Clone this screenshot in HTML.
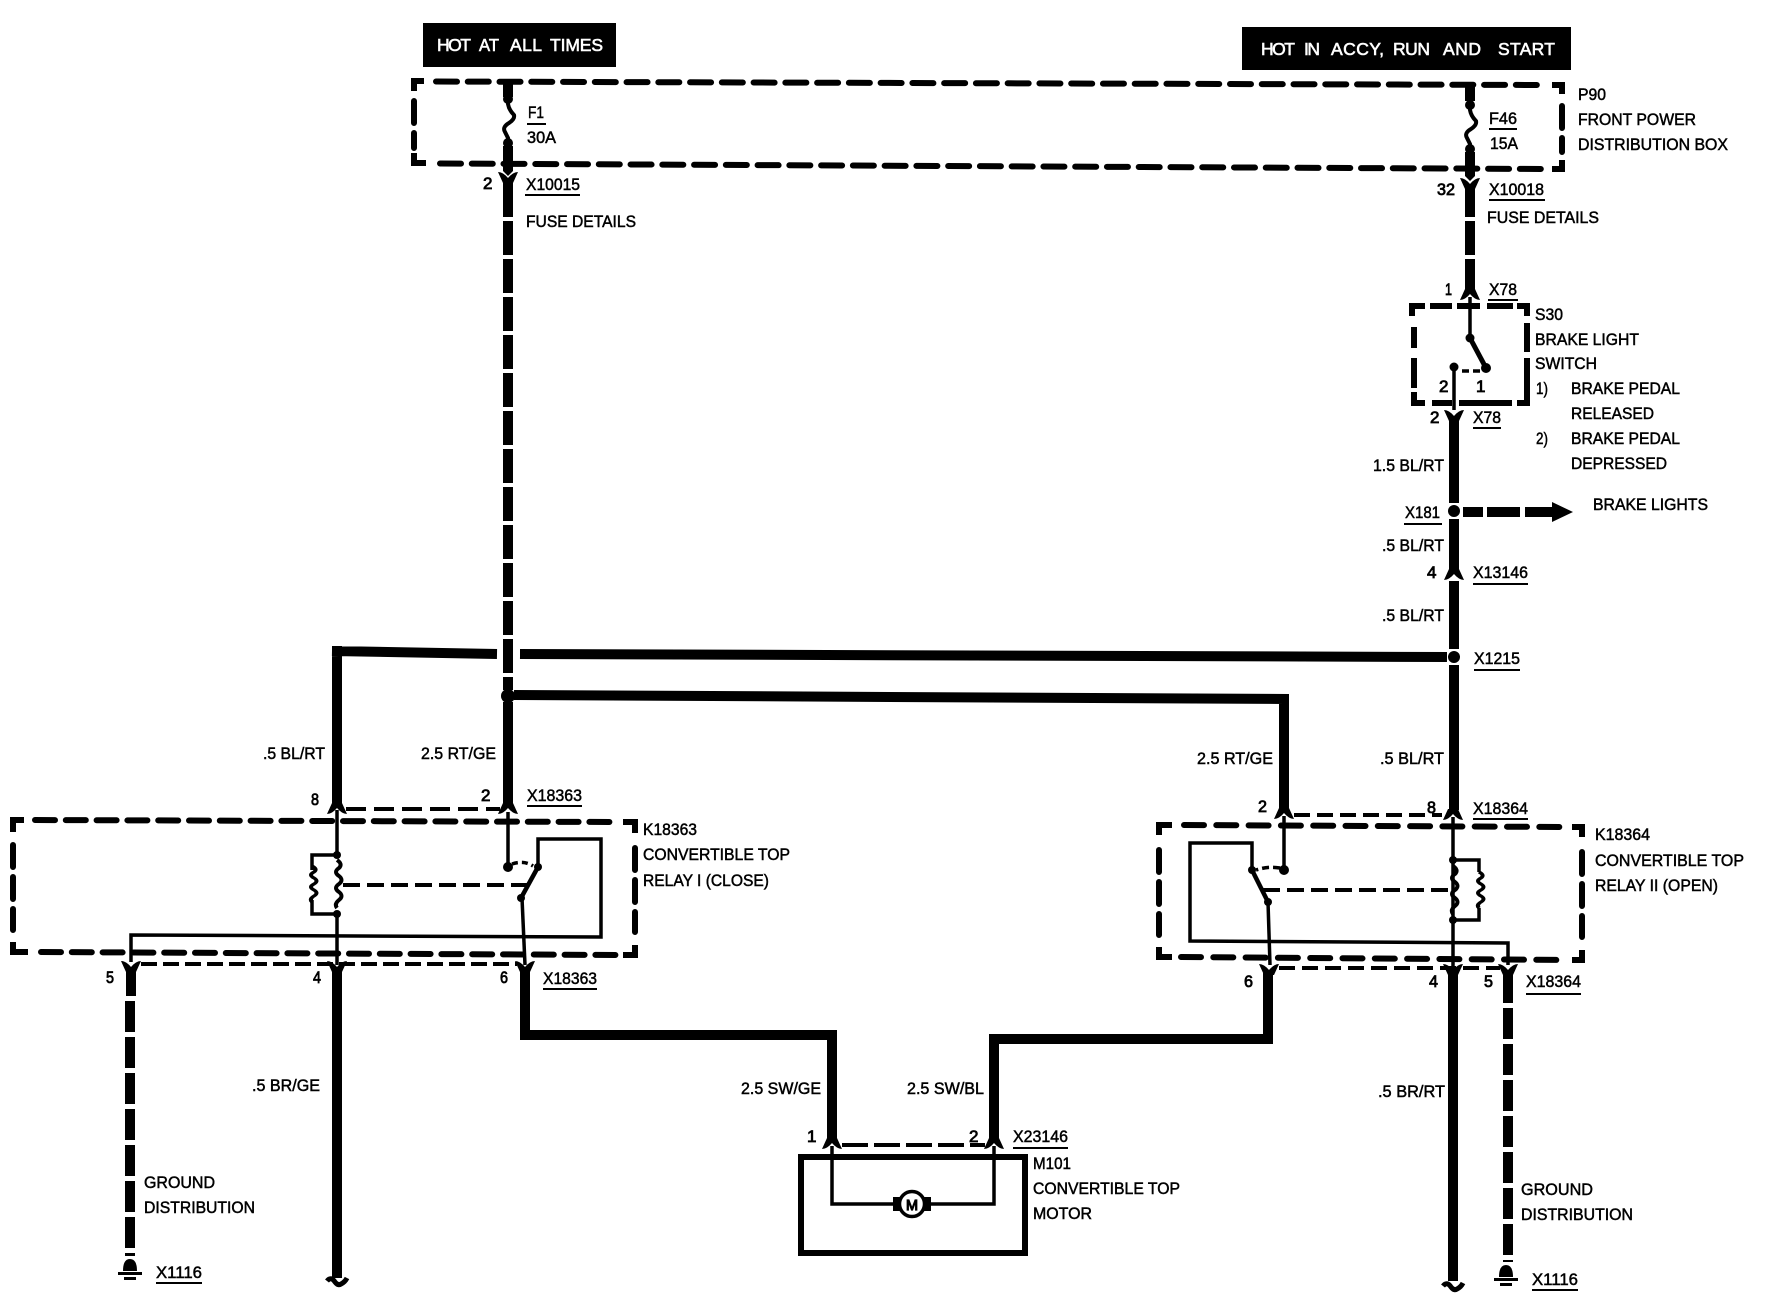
<!DOCTYPE html>
<html>
<head>
<meta charset="utf-8">
<style>
html,body{margin:0;padding:0;background:#fff}
svg{display:block}
text{font-family:"Liberation Sans",sans-serif;font-size:17px;fill:#000;stroke:#000;stroke-width:.5}
text.n{stroke-width:.8}
text.w{fill:#fff;stroke:#fff;stroke-width:.6;font-size:17.5px}
.wire{fill:none;stroke:#000;stroke-width:10}
.thin{fill:none;stroke:#000;stroke-width:3.5}
.ul{stroke:#000;stroke-width:2;fill:none}
.box{fill:none;stroke:#000;stroke-width:6;stroke-linecap:round;stroke-dasharray:21 10.76}
.r1{fill:none;stroke:#000;stroke-width:6;stroke-linecap:round;stroke-dasharray:20 10.8}
.r2{fill:none;stroke:#000;stroke-width:6;stroke-linecap:round;stroke-dasharray:20 12.3}
.side{fill:none;stroke:#000;stroke-width:6;stroke-linecap:round;stroke-dasharray:22 10}
.cdash{fill:none;stroke:#000;stroke-width:4;stroke-dasharray:20 8}
.wdash{fill:none;stroke:#000;stroke-width:10;stroke-dasharray:34 4}
</style>
</head>
<body>
<svg width="1772" height="1312" viewBox="0 0 1772 1312" xmlns="http://www.w3.org/2000/svg">
<defs>
<path id="fy" d="M-10 -5 Q-5 -5 0 1 Q5 -5 10 -5 L5 6 L-5 6 Z" fill="#000"/>
<path id="fc" d="M-10 5 Q-5 5 0 -1 Q5 5 10 5 L5 -6 L-5 -6 Z" fill="#000"/>
<path id="coil" d="M0 0 Q6 4 2 8 Q-4 12 2 16 Q7 20 2 24 Q-4 28 2 32 Q7 36 2 40 Q-3 44 0 48" fill="none" stroke="#000" stroke-width="4"/>
<path id="fuse" d="M0 0 L0 6 Q1 12 6 17 Q7 21 1 25 Q-6 29 -3 34 L0 40 L0 46" fill="none" stroke="#000" stroke-width="4"/>
<g id="gnd"><path d="M-7 0 Q-7 -12 0 -12 Q7 -12 7 0 Z" fill="#000"/><rect x="-12" y="1" width="24" height="3" fill="#000"/><rect x="-6" y="6" width="12" height="3" fill="#000"/></g>
<path id="tilde" d="M-10 0 Q-6 -5 -2 1 Q1 5 4 3 Q8 1 10 -3" fill="none" stroke="#000" stroke-width="5"/>
</defs>

<!-- header boxes -->
<rect x="423" y="23" width="193" height="44" fill="#000"/>
<text class="w" x="437" y="51" textLength="34" lengthAdjust="spacing">HOT</text>
<text class="w" x="479" y="51" textLength="20" lengthAdjust="spacingAndGlyphs">AT</text>
<text class="w" x="510" y="51" textLength="32" lengthAdjust="spacing">ALL</text>
<text class="w" x="550" y="51" textLength="53" lengthAdjust="spacing">TIMES</text>
<rect x="1242" y="27" width="329" height="43" fill="#000"/>
<text class="w" x="1261" y="55" textLength="34" lengthAdjust="spacing">HOT</text>
<text class="w" x="1304" y="55" textLength="16" lengthAdjust="spacing">IN</text>
<text class="w" x="1331" y="55" textLength="53" lengthAdjust="spacing">ACCY,</text>
<text class="w" x="1393" y="55" textLength="37" lengthAdjust="spacing">RUN</text>
<text class="w" x="1443" y="55" textLength="38" lengthAdjust="spacing">AND</text>
<text class="w" x="1498" y="55" textLength="57" lengthAdjust="spacing">START</text>

<!-- fuse box -->
<path class="box" d="M436 81.5 L1542 85"/>
<path class="box" d="M440 163.5 L1546 169"/>
<path d="M414 91 V81 H424 M1552 85 H1562 V94 M414 153 V163 H426 M1562 160 V169 H1552" fill="none" stroke="#000" stroke-width="6"/>
<path class="side" d="M414 101 V148"/>
<path class="side" d="M1562 106 V152"/>

<!-- fuses -->
<path class="wire" d="M508 79 V97 M508 146 V171"/>
<use href="#fuse" x="508" y="98"/>
<circle cx="508" cy="99" r="5"/><circle cx="508" cy="143" r="5"/>
<path d="M503 171 H513 L508 176 Z" fill="#000"/>
<path class="wire" d="M1470 83 V101 M1470 152 V176"/>
<use href="#fuse" x="1470" y="104"/>
<circle cx="1470" cy="105" r="5"/><circle cx="1470" cy="149" r="5"/>
<path d="M1465 176 H1475 L1470 181 Z" fill="#000"/>
<use href="#fy" x="508" y="177"/>
<use href="#fy" x="1470" y="183"/>

<!-- main left wire -->
<path class="wire" d="M508 180 V217"/>
<path class="wdash" d="M508 221 V690"/>
<circle cx="508" cy="696" r="7"/>
<path class="wire" d="M508 702 V808"/>
<!-- main right top wire -->
<path class="wire" d="M1470 186 V217 M1470 221 V255 M1470 259 V291"/>
<use href="#fc" x="1470" y="295"/>

<!-- switch -->
<path d="M1412 316 V306 H1425 M1430 306 H1452 M1457 306 H1480 M1487 306 H1513 M1517 306 H1527 V316
         M1414 327 V348 M1414 358 V388 M1414 392 V403 H1425 M1432 403 H1452 M1459 403 H1512 M1527 393 V403 H1517
         M1527 323 V352 M1527 358 V393" fill="none" stroke="#000" stroke-width="6"/>
<path class="thin" d="M1470 297 V338"/>
<circle cx="1470" cy="338" r="4.5"/>
<path d="M1470 338 L1486 368" stroke="#000" stroke-width="5" fill="none"/>
<circle cx="1486" cy="368" r="5"/>
<circle cx="1454" cy="367" r="4.5"/>
<path class="thin" d="M1454 367 V410"/>
<path d="M1462 371 H1482" stroke="#000" stroke-width="3.5" stroke-dasharray="7 4" fill="none"/>
<use href="#fy" x="1454" y="415"/>

<!-- right vertical -->
<path class="wire" d="M1454 418 V503 M1454 519 V570"/>
<circle cx="1454" cy="511" r="6"/>
<use href="#fc" x="1454" y="575"/>
<path class="wire" d="M1454 581 V649"/>
<circle cx="1454" cy="657" r="6"/>
<path class="wire" d="M1454 665 V810"/>

<!-- X181 arrow -->
<path d="M1463 512 H1483 M1487 512 H1520 M1525 512 H1554" stroke="#000" stroke-width="10" fill="none"/>
<path d="M1552 502 L1573 512 L1552 522 Z" fill="#000"/>

<!-- horizontals -->
<path class="wire" d="M337 808 V651 H332 M332 651 L497 654"/>
<path class="wire" d="M520 654 L1447 657"/>
<path class="wire" d="M514 695 L1284 699 V810"/>

<!-- relay I -->
<path class="r1" d="M35 820 L612 822"/>
<path class="r1" d="M41 952 L618 955"/>
<path d="M13 832 V820 H24 M623 822 H635 V833 M13 942 V952 H28 M635 945 V955 H623" fill="none" stroke="#000" stroke-width="6"/>
<path class="side" d="M13 845 V930"/>
<path class="side" d="M635 848 V932"/>
<use href="#fc" x="337" y="809"/>
<use href="#fc" x="508" y="809"/>
<path class="cdash" d="M346 809 H500"/>
<path class="thin" d="M337 810 V855 M337 914 V965"/>
<path class="thin" d="M337 855 H312 V870 M312 900 V914 H337"/>
<circle cx="337" cy="855" r="4"/><circle cx="337" cy="914" r="4"/>
<use href="#coil" x="337" y="860"/>
<g transform="translate(312 866) scale(1 .75)"><use href="#coil"/></g>
<path class="cdash" d="M343 885 H530" style="stroke-dasharray:17 7"/>
<path class="thin" d="M508 812 V867"/>
<circle cx="508" cy="867" r="5"/>
<path d="M512 864 Q524 860 533 866" fill="none" stroke="#000" stroke-width="3.5" stroke-dasharray="6 4"/>
<circle cx="538" cy="867" r="4"/>
<path d="M538 867 L521 898" stroke="#000" stroke-width="4.5" fill="none"/>
<circle cx="521" cy="898" r="4"/>
<path class="thin" d="M522 898 L525 965"/>
<path class="thin" d="M538 867 V839 H601 V937 L131 935 V962"/>
<use href="#fy" x="131" y="966"/>
<use href="#fy" x="337" y="966"/>
<use href="#fy" x="525" y="966"/>
<path class="cdash" d="M141 964 H517" style="stroke-dasharray:16 6"/>

<!-- relay II -->
<path class="r2" d="M1184 825 L1565 827"/>
<path class="r2" d="M1181 957 L1565 960"/>
<path d="M1159 835 V825 H1172 M1572 827 H1582 V837 M1159 947 V957 H1172 M1582 950 V960 H1572" fill="none" stroke="#000" stroke-width="6"/>
<path class="side" d="M1159 850 V935"/>
<path class="side" d="M1582 852 V937"/>
<use href="#fc" x="1284" y="814"/>
<use href="#fc" x="1453" y="815"/>
<path class="cdash" d="M1294 815 H1442" style="stroke-dasharray:16 7"/>
<path class="thin" d="M1284 816 V870"/>
<circle cx="1284" cy="870" r="5"/>
<path d="M1280 868 Q1268 866 1256 870" fill="none" stroke="#000" stroke-width="3.5" stroke-dasharray="7 4"/>
<circle cx="1252" cy="870" r="4"/>
<path d="M1252 870 L1268 902" stroke="#000" stroke-width="4.5" fill="none"/>
<circle cx="1268" cy="902" r="4"/>
<path class="thin" d="M1268 902 L1270 965"/>
<path class="thin" d="M1252 870 V843 H1190 V941 L1508 943 V965"/>
<path class="thin" d="M1453 817 V968"/>
<path class="thin" d="M1453 860 H1479 V872 M1479 908 V920 H1453"/>
<circle cx="1453" cy="860" r="4"/><circle cx="1453" cy="920" r="4"/>
<use href="#coil" x="1453" y="866"/>
<g transform="translate(1479 872) scale(1 .75)"><use href="#coil"/></g>
<path class="cdash" d="M1263 890 H1448" style="stroke-dasharray:17 7"/>
<use href="#fy" x="1269" y="969"/>
<use href="#fy" x="1453" y="969"/>
<use href="#fy" x="1508" y="969"/>
<path class="cdash" d="M1279 968 H1500" style="stroke-dasharray:16 7"/>

<!-- lower wires -->
<path class="wire" d="M131 971 V996"/>
<path class="wdash" d="M130 1001 V1256" style="stroke-dasharray:31 5"/>
<use href="#gnd" x="130" y="1271"/>
<path class="wire" d="M337 971 V1278"/>
<use href="#tilde" x="337" y="1281"/>
<path class="wire" d="M525 971 V1035 H832 V1140"/>
<path class="wire" d="M994 1140 V1039 H1268 V973"/>
<path class="wire" d="M1453 973 V1281"/>
<use href="#tilde" x="1453" y="1286"/>
<path class="wire" d="M1508 973 V1003"/>
<path class="wdash" d="M1508 1008 V1262" style="stroke-dasharray:31 5"/>
<use href="#gnd" x="1506" y="1277"/>

<!-- motor -->
<rect x="801" y="1157" width="224" height="96" fill="none" stroke="#000" stroke-width="6"/>
<use href="#fc" x="832" y="1144"/>
<use href="#fc" x="994" y="1144"/>
<path class="cdash" d="M842 1145 H985" style="stroke-dasharray:26 6"/>
<path class="thin" d="M832 1146 V1204 H895 M931 1204 H994 V1146"/>
<rect x="893" y="1197" width="38" height="14" fill="#000"/>
<circle cx="912" cy="1204" r="12.5" fill="#fff" stroke="#000" stroke-width="3.5"/>
<text x="906" y="1210" style="font-size:15px;stroke-width:1.2" textLength="12" lengthAdjust="spacingAndGlyphs">M</text>

<!-- labels -->
<g>
<text x="528" y="118" textLength="16" lengthAdjust="spacingAndGlyphs">F1</text><path class="ul" d="M527 124 H546"/>
<text x="527" y="143" textLength="29" lengthAdjust="spacingAndGlyphs">30A</text>
<text class="n" x="483" y="189">2</text>
<text x="526" y="190" textLength="54" lengthAdjust="spacingAndGlyphs">X10015</text><path class="ul" d="M525 195 H580"/>
<text x="526" y="227" textLength="110" lengthAdjust="spacingAndGlyphs">FUSE DETAILS</text>

<text x="1489" y="124" textLength="28" lengthAdjust="spacingAndGlyphs">F46</text><path class="ul" d="M1489 129 H1517"/>
<text x="1490" y="149" textLength="28" lengthAdjust="spacingAndGlyphs">15A</text>
<text x="1578" y="100" textLength="28" lengthAdjust="spacingAndGlyphs">P90</text>
<text x="1578" y="125" textLength="118" lengthAdjust="spacingAndGlyphs">FRONT POWER</text>
<text x="1578" y="150" textLength="150" lengthAdjust="spacingAndGlyphs">DISTRIBUTION BOX</text>
<text class="n" x="1437" y="195" textLength="18" lengthAdjust="spacingAndGlyphs">32</text>
<text x="1489" y="195" textLength="55" lengthAdjust="spacingAndGlyphs">X10018</text><path class="ul" d="M1489 200 H1545"/>
<text x="1487" y="223" textLength="112" lengthAdjust="spacingAndGlyphs">FUSE DETAILS</text>
<text class="n" x="1445" y="295" textLength="7" lengthAdjust="spacingAndGlyphs">1</text>
<text x="1489" y="295" textLength="28" lengthAdjust="spacingAndGlyphs">X78</text><path class="ul" d="M1488 300 H1518"/>

<text x="1535" y="320" textLength="28" lengthAdjust="spacingAndGlyphs">S30</text>
<text x="1535" y="345" textLength="104" lengthAdjust="spacingAndGlyphs">BRAKE LIGHT</text>
<text x="1535" y="369" textLength="62" lengthAdjust="spacingAndGlyphs">SWITCH</text>
<text x="1536" y="394" textLength="12" lengthAdjust="spacingAndGlyphs">1)</text>
<text x="1571" y="394" textLength="109" lengthAdjust="spacingAndGlyphs">BRAKE PEDAL</text>
<text x="1571" y="419" textLength="83" lengthAdjust="spacingAndGlyphs">RELEASED</text>
<text x="1536" y="444" textLength="12" lengthAdjust="spacingAndGlyphs">2)</text>
<text x="1571" y="444" textLength="109" lengthAdjust="spacingAndGlyphs">BRAKE PEDAL</text>
<text x="1571" y="469" textLength="96" lengthAdjust="spacingAndGlyphs">DEPRESSED</text>
<text class="n" x="1439" y="392">2</text>
<text class="n" x="1476" y="392">1</text>
<text class="n" x="1430" y="423">2</text>
<text x="1473" y="423" textLength="28" lengthAdjust="spacingAndGlyphs">X78</text><path class="ul" d="M1473 428 H1501"/>
<text x="1373" y="471" textLength="71" lengthAdjust="spacingAndGlyphs">1.5 BL/RT</text>
<text x="1405" y="518" textLength="35" lengthAdjust="spacingAndGlyphs">X181</text><path class="ul" d="M1404 524 H1442"/>
<text x="1593" y="510" textLength="115" lengthAdjust="spacingAndGlyphs">BRAKE LIGHTS</text>
<text x="1382" y="551" textLength="62" lengthAdjust="spacingAndGlyphs">.5 BL/RT</text>
<text class="n" x="1427" y="578">4</text>
<text x="1473" y="578" textLength="55" lengthAdjust="spacingAndGlyphs">X13146</text><path class="ul" d="M1473 584 H1528"/>
<text x="1382" y="621" textLength="62" lengthAdjust="spacingAndGlyphs">.5 BL/RT</text>
<text x="1474" y="664" textLength="46" lengthAdjust="spacingAndGlyphs">X1215</text><path class="ul" d="M1474 670 H1520"/>

<text x="263" y="759" textLength="62" lengthAdjust="spacingAndGlyphs">.5 BL/RT</text>
<text x="421" y="759" textLength="75" lengthAdjust="spacingAndGlyphs">2.5 RT/GE</text>
<text class="n" x="311" y="805" textLength="8" lengthAdjust="spacingAndGlyphs">8</text>
<text class="n" x="481" y="801">2</text>
<text x="527" y="801" textLength="55" lengthAdjust="spacingAndGlyphs">X18363</text><path class="ul" d="M527 806 H582"/>
<text x="643" y="835" textLength="54" lengthAdjust="spacingAndGlyphs">K18363</text>
<text x="643" y="860" textLength="147" lengthAdjust="spacingAndGlyphs">CONVERTIBLE TOP</text>
<text x="643" y="886" textLength="126" lengthAdjust="spacingAndGlyphs">RELAY I (CLOSE)</text>
<text class="n" x="106" y="983" textLength="8" lengthAdjust="spacingAndGlyphs">5</text>
<text class="n" x="313" y="983" textLength="8" lengthAdjust="spacingAndGlyphs">4</text>
<text class="n" x="500" y="983" textLength="8" lengthAdjust="spacingAndGlyphs">6</text>
<text x="543" y="984" textLength="54" lengthAdjust="spacingAndGlyphs">X18363</text><path class="ul" d="M543 989 H597"/>
<text x="252" y="1091" textLength="68" lengthAdjust="spacingAndGlyphs">.5 BR/GE</text>
<text x="144" y="1188" textLength="71" lengthAdjust="spacingAndGlyphs">GROUND</text>
<text x="144" y="1213" textLength="111" lengthAdjust="spacingAndGlyphs">DISTRIBUTION</text>
<text x="156" y="1278" textLength="46" lengthAdjust="spacingAndGlyphs">X1116</text><path class="ul" d="M156 1283 H202"/>

<text x="1197" y="764" textLength="76" lengthAdjust="spacingAndGlyphs">2.5 RT/GE</text>
<text x="1380" y="764" textLength="64" lengthAdjust="spacingAndGlyphs">.5 BL/RT</text>
<text class="n" x="1258" y="812" textLength="9" lengthAdjust="spacingAndGlyphs">2</text>
<text class="n" x="1427" y="813" textLength="9" lengthAdjust="spacingAndGlyphs">8</text>
<text x="1473" y="814" textLength="55" lengthAdjust="spacingAndGlyphs">X18364</text><path class="ul" d="M1473 819 H1528"/>
<text x="1595" y="840" textLength="55" lengthAdjust="spacingAndGlyphs">K18364</text>
<text x="1595" y="866" textLength="149" lengthAdjust="spacingAndGlyphs">CONVERTIBLE TOP</text>
<text x="1595" y="891" textLength="123" lengthAdjust="spacingAndGlyphs">RELAY II (OPEN)</text>
<text class="n" x="1244" y="987" textLength="9" lengthAdjust="spacingAndGlyphs">6</text>
<text class="n" x="1429" y="987" textLength="9" lengthAdjust="spacingAndGlyphs">4</text>
<text class="n" x="1484" y="987" textLength="9" lengthAdjust="spacingAndGlyphs">5</text>
<text x="1526" y="987" textLength="55" lengthAdjust="spacingAndGlyphs">X18364</text><path class="ul" d="M1526 994 H1581"/>
<text x="1378" y="1097" textLength="67" lengthAdjust="spacingAndGlyphs">.5 BR/RT</text>
<text x="1521" y="1195" textLength="72" lengthAdjust="spacingAndGlyphs">GROUND</text>
<text x="1521" y="1220" textLength="112" lengthAdjust="spacingAndGlyphs">DISTRIBUTION</text>
<text x="1532" y="1285" textLength="46" lengthAdjust="spacingAndGlyphs">X1116</text><path class="ul" d="M1532 1290 H1578"/>

<text x="741" y="1094" textLength="80" lengthAdjust="spacingAndGlyphs">2.5 SW/GE</text>
<text x="907" y="1094" textLength="77" lengthAdjust="spacingAndGlyphs">2.5 SW/BL</text>
<text class="n" x="807" y="1142">1</text>
<text class="n" x="969" y="1142">2</text>
<text x="1013" y="1142" textLength="55" lengthAdjust="spacingAndGlyphs">X23146</text><path class="ul" d="M1013 1148 H1068"/>
<text x="1033" y="1169" textLength="38" lengthAdjust="spacingAndGlyphs">M101</text>
<text x="1033" y="1194" textLength="147" lengthAdjust="spacingAndGlyphs">CONVERTIBLE TOP</text>
<text x="1033" y="1219" textLength="59" lengthAdjust="spacingAndGlyphs">MOTOR</text>
</g>
</svg>
</body>
</html>
